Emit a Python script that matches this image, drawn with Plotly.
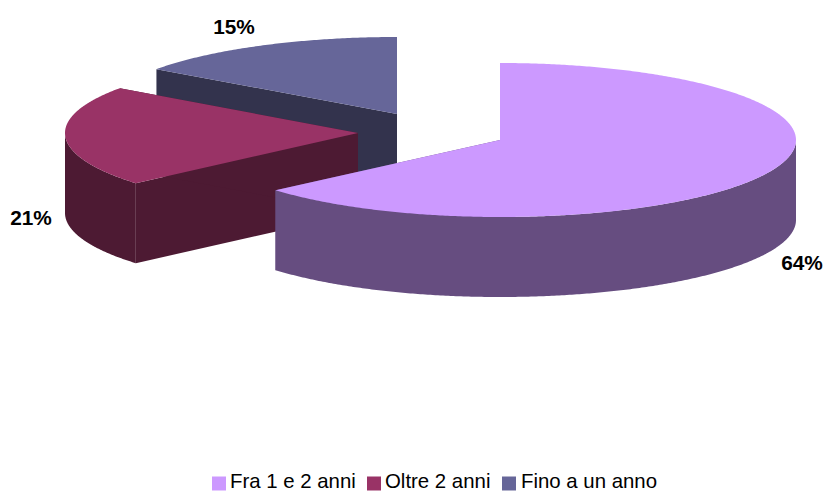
import numpy as np
import plotly.graph_objects as go

categories = ["Fra 1 e 2 anni", "Oltre 2 anni", "Fino a un anno"]
values = [63.7, 21.2, 15.1]
labels = ["64%", "21%", "15%"]
top_colors = ["#CC99FF", "#993366", "#666699"]
side_colors = ["#664D80", "#4D1A33", "#33334D"]

# 3D-pie projection (pixel space of the 826x491 page)
apexes = [(500, 140), (358, 133), (397, 114)]
radii_x = [296, 293, 296]
RY, DEPTH = 77, 80
label_pos = [(802, 265), (31, 220), (234, 29)]
legend_key_x = [219, 374, 509]
legend_text_x = [230, 385, 521]
LEGEND_KEY_Y = 483.5
LEGEND_TEXT_Y = 483


def arc(cx, cy, rx, a0, a1):
    t = np.radians(np.linspace(a0, a1, max(int(abs(a1 - a0) * 2), 2)))
    return cx + rx * np.sin(t), cy - RY * np.cos(t)


fig = go.Figure()
edges = np.cumsum([0] + values) / sum(values) * 360
for i in [2, 1, 0]:
    a0, a1 = edges[i], edges[i + 1]
    cx, cy = apexes[i]
    rx = radii_x[i]
    ax, ay = arc(cx, cy, rx, a0, a1)
    # cut faces
    for a in (a0, a1):
        px, py = arc(cx, cy, rx, a, a)
        fig.add_trace(go.Scatter(
            x=[cx, px[0], px[0], cx, cx], y=[cy, py[0], py[0] + DEPTH, cy + DEPTH, cy],
            fill="toself", fillcolor=side_colors[i], mode="none",
            showlegend=False, hoverinfo="skip"))
    # outer wall (front half only)
    w0, w1 = max(a0, 90), min(a1, 270)
    if w1 > w0:
        wx, wy = arc(cx, cy, rx, w0, w1)
        fig.add_trace(go.Scatter(
            x=np.r_[wx, wx[::-1]], y=np.r_[wy, wy[::-1] + DEPTH],
            fill="toself", fillcolor=side_colors[i], mode="none",
            showlegend=False, hoverinfo="skip"))
    # top face
    fig.add_trace(go.Scatter(
        x=np.r_[cx, ax, cx], y=np.r_[cy, ay, cy],
        fill="toself", fillcolor=top_colors[i], mode="none",
        showlegend=False, hoverinfo="text", text=f"{categories[i]}: {labels[i]}"))

# legend keys and texts
fig.add_trace(go.Scatter(
    x=legend_key_x, y=[LEGEND_KEY_Y] * 3, mode="markers",
    marker=dict(symbol="square", size=14, color=top_colors, line=dict(width=0)),
    showlegend=False, hoverinfo="skip", cliponaxis=False))
fig.add_trace(go.Scatter(
    x=legend_text_x, y=[LEGEND_TEXT_Y] * 3, text=categories, mode="text",
    textposition="middle right", cliponaxis=False,
    textfont=dict(family="Liberation Sans", size=20.4, color="black"),
    showlegend=False, hoverinfo="skip"))

# data labels
fig.add_trace(go.Scatter(
    x=[p[0] for p in label_pos], y=[p[1] for p in label_pos], text=labels,
    mode="text", cliponaxis=False,
    textfont=dict(family="Liberation Sans", size=20.8, color="black", weight="bold"),
    showlegend=False, hoverinfo="skip"))

fig.update_layout(
    width=826, height=491, margin=dict(l=0, r=0, t=0, b=0),
    paper_bgcolor="white", plot_bgcolor="white",
    xaxis=dict(range=[0, 826], visible=False),
    yaxis=dict(range=[491, 0], visible=False),
    font=dict(family="Liberation Sans", size=20, color="black"),
    showlegend=False,
)
fig.write_html("out.html", config={"displayModeBar": False},
               post_script="document.body.style.margin='0';")
